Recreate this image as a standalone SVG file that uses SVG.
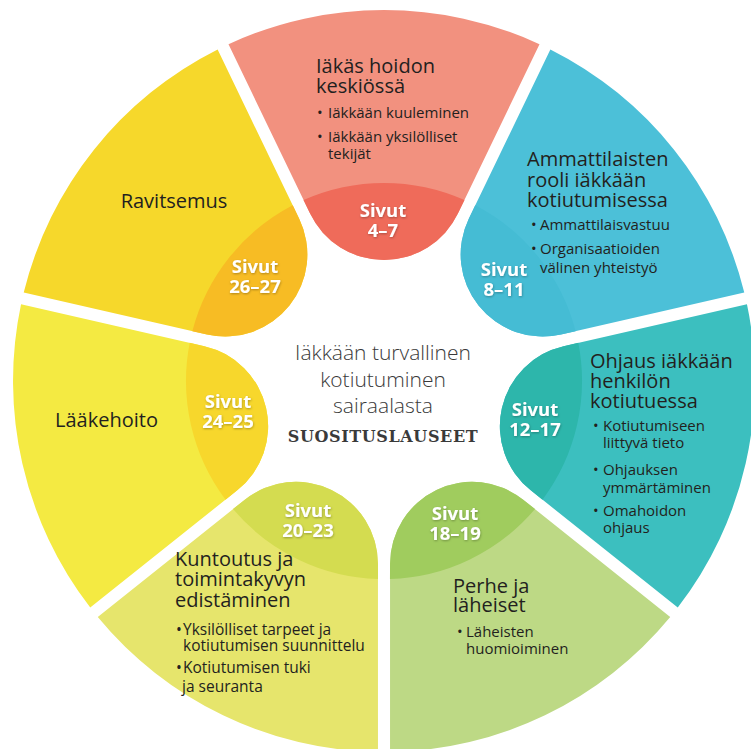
<svg xmlns="http://www.w3.org/2000/svg" xmlns:xlink="http://www.w3.org/1999/xlink" width="751" height="749" viewBox="0 0 751 749">
<style>
.t{font-family:"Open Sans","Noto Sans","Liberation Sans",sans-serif;font-size:20px;fill:#231f20}
.b{font-family:"Open Sans","Noto Sans","Liberation Sans",sans-serif;font-size:15px;fill:#231f20}
.s{font-family:"Open Sans","Noto Sans","Liberation Sans",sans-serif;font-size:18.5px;font-weight:700;fill:#ffffff;text-anchor:middle;filter:url(#sh)}
.c{font-family:"Open Sans","Noto Sans","Liberation Sans",sans-serif;font-size:21px;font-weight:300;fill:#3a3a3a;text-anchor:middle}
.h{font-family:"DejaVu Serif","Liberation Serif",serif;font-size:16px;font-weight:700;fill:#3a3a3a;text-anchor:middle;letter-spacing:0.6px}
</style>
<defs>
<filter id="sh" x="-20%" y="-30%" width="140%" height="160%">
<feDropShadow dx="0.5" dy="1" stdDeviation="1" flood-color="#000" flood-opacity="0.3"/>
</filter>
<path id="petal" d="M457.9 213.6 L539.5 44.2 A371 371 0 0 0 228.5 44.2 L310.1 213.6 A82 82 0 0 0 457.9 213.6 Z"/>
<path id="inner" d="M464.5 200.1 A198 198 0 0 0 303.5 200.1 L310.1 213.6 A82 82 0 0 0 457.9 213.6 Z"/>
</defs>
<rect width="751" height="749" fill="#ffffff"/>

<g id="node-hoito">
<use xlink:href="#petal" fill="#f2917f"/>
<use xlink:href="#inner" fill="#ef6b5a"/>
<text class="t" x="316" y="73">Iäkäs hoidon<tspan x="316" dy="20">keskiössä</tspan></text>
<text class="b" x="317" y="118">•<tspan x="328">Iäkkään kuuleminen</tspan><tspan x="317" dy="24">•</tspan><tspan x="328">Iäkkään yksilölliset</tspan><tspan x="328" dy="17">tekijät</tspan></text>
<text class="s" x="383" y="217">Sivut<tspan x="383" dy="20">4–7</tspan></text>
</g>

<g id="node-ammattilaiset">
<use xlink:href="#petal" fill="#4cc0d8" transform="rotate(51.4286 384 381)"/>
<use xlink:href="#inner" fill="#45bcd4" transform="rotate(51.4286 384 381)"/>
<text class="t" x="527" y="166">Ammattilaisten<tspan x="527" dy="21">rooli iäkkään</tspan><tspan x="527" dy="20">kotiutumisessa</tspan></text>
<text class="b" x="531" y="230">•<tspan x="540">Ammattilaisvastuu</tspan><tspan x="531" dy="24">•</tspan><tspan x="540">Organisaatioiden</tspan><tspan x="540" dy="19">välinen yhteistyö</tspan></text>
<text class="s" x="504" y="276">Sivut<tspan x="504" dy="20">8–11</tspan></text>
</g>

<g id="node-ohjaus">
<use xlink:href="#petal" fill="#3cbfbf" transform="rotate(102.8571 384 381)"/>
<use xlink:href="#inner" fill="#2db6ab" transform="rotate(102.8571 384 381)"/>
<text class="t" x="590" y="368">Ohjaus iäkkään<tspan x="590" dy="20">henkilön</tspan><tspan x="590" dy="20">kotiutuessa</tspan></text>
<text class="b" x="593" y="431">•<tspan x="603">Kotiutumiseen</tspan><tspan x="603" dy="17">liittyvä tieto</tspan><tspan x="593" dy="27">•</tspan><tspan x="603">Ohjauksen</tspan><tspan x="603" dy="18">ymmärtäminen</tspan><tspan x="593" dy="23">•</tspan><tspan x="603">Omahoidon</tspan><tspan x="603" dy="17">ohjaus</tspan></text>
<text class="s" x="535" y="416">Sivut<tspan x="535" dy="20">12–17</tspan></text>
</g>

<g id="node-perhe">
<use xlink:href="#petal" fill="#bdd985" transform="rotate(154.2857 384 381)"/>
<use xlink:href="#inner" fill="#a0cc5e" transform="rotate(154.2857 384 381)"/>
<text class="s" x="455" y="520">Sivut<tspan x="455" dy="20">18–19</tspan></text>
<text class="t" x="453" y="593">Perhe ja<tspan x="453" dy="19">läheiset</tspan></text>
<text class="b" x="457" y="637">•<tspan x="466">Läheisten</tspan><tspan x="466" dy="17">huomioiminen</tspan></text>
</g>

<g id="node-kuntoutus">
<use xlink:href="#petal" fill="#e6e56c" transform="rotate(205.7143 384 381)"/>
<use xlink:href="#inner" fill="#d4dc50" transform="rotate(205.7143 384 381)"/>
<text class="s" x="308" y="517">Sivut<tspan x="308" dy="20">20–23</tspan></text>
<text class="t" x="175" y="566">Kuntoutus ja<tspan x="175" dy="20">toimintakyvyn</tspan><tspan x="175" dy="21">edistäminen</tspan></text>
<text class="b" x="176" y="635" style="font-size:15.5px">•<tspan x="183">Yksilölliset tarpeet ja</tspan><tspan x="183" dy="16">kotiutumisen suunnittelu</tspan><tspan x="176" dy="22">•</tspan><tspan x="183">Kotiutumisen tuki</tspan><tspan x="182" dy="19">ja seuranta</tspan></text>
</g>

<g id="node-laakehoito">
<use xlink:href="#petal" fill="#f4ea42" transform="rotate(257.1429 384 381)"/>
<use xlink:href="#inner" fill="#f7d72c" transform="rotate(257.1429 384 381)"/>
<text class="t" x="55" y="427">Lääkehoito</text>
<text class="s" x="228" y="408">Sivut<tspan x="228" dy="20">24–25</tspan></text>
</g>

<g id="node-ravitsemus">
<use xlink:href="#petal" fill="#f6d82b" transform="rotate(308.5714 384 381)"/>
<use xlink:href="#inner" fill="#f7bc24" transform="rotate(308.5714 384 381)"/>
<text class="t" x="174" y="208" text-anchor="middle">Ravitsemus</text>
<text class="s" x="255" y="273">Sivut<tspan x="255" dy="20">26–27</tspan></text>
</g>

<g id="center">
<text class="c" x="383" y="360">Iäkkään turvallinen<tspan x="383" dy="27">kotiutuminen</tspan><tspan x="383" dy="26">sairaalasta</tspan></text>
<text class="h" x="383" y="442">SUOSITUSLAUSEET</text>
</g>
<g id="connectors"/>
</svg>
